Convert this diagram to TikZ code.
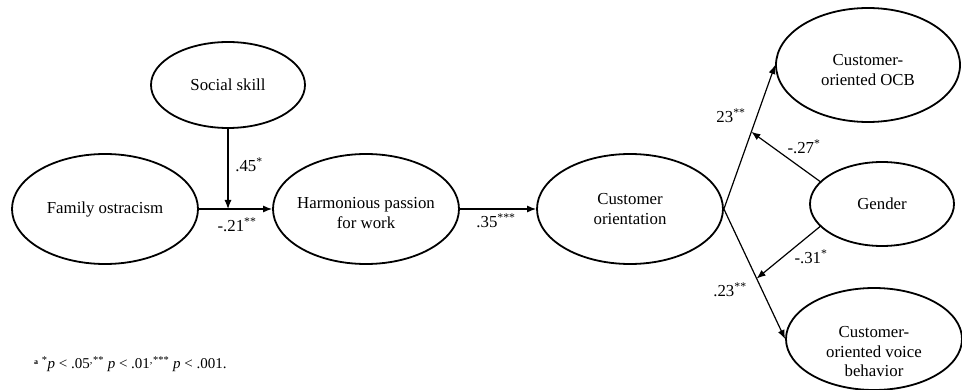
\documentclass[tikz,border=0pt]{standalone}
\usepackage{fontspec}
\setmainfont{Liberation Serif}
\usetikzlibrary{shapes.geometric,arrows.meta,calc}
\begin{document}
\begin{tikzpicture}[x=1pt,y=-1pt,
  var/.style={draw,ellipse,line width=1.8pt,inner sep=0pt,align=center,
    font=\fontsize{16.8}{20}\selectfont},
  txt/.style={inner sep=0pt,align=center,font=\fontsize{16.8}{19.5}\selectfont},
  conn/.style={line width=1.2pt,-{Latex[length=9pt,width=7pt]}},
  lab/.style={font=\fontsize{16.8}{19}\selectfont,inner sep=0pt}]
\useasboundingbox (0,0) rectangle (962,390);
\node[var,minimum width=186pt,minimum height=110pt] (fam) at (105,209) {Family ostracism};
\node[var,minimum width=154pt,minimum height=86pt] (ss) at (228,85) {Social skill};
\node[var,minimum width=186pt,minimum height=110pt] (hp) at (366,209) {};
\node[txt] (hpt) at (366,213) {Harmonious passion\\for work};
\node[var,minimum width=186pt,minimum height=110pt] (co) at (630,209) {Customer\\orientation};
\node[var,minimum width=144pt,minimum height=84pt] (gen) at (882,204) {Gender};
\node[var,minimum width=184pt,minimum height=114pt] (ocb) at (868,65) {};
\node[txt] (ocbt) at (868,70) {Customer-\\oriented OCB};
\node[var,minimum width=176pt,minimum height=102pt] (voice) at (874,339) {};
\node[txt] (voicet) at (874,352) {Customer-\\oriented voice\\behavior};
\coordinate (m) at (228,209);
\draw[conn] (fam.east) -- (hp.west);
\draw[conn] (ss.south) -- (m);
\draw[conn] (hp.east) -- (co.west);
\draw[conn] (co.east) -- (ocb.west);
\draw[conn] (co.east) -- (voice.west);
\coordinate (g1) at ($(co.east)!0.536!(ocb.west)$);
\coordinate (g2) at ($(co.east)!0.535!(voice.west)$);
\draw[conn] (gen.160) -- (g1);
\draw[conn] (gen.200) -- (g2);
\node[lab] (l45) at (249,165) {.45\textsuperscript{*}};
\node[lab] (l21) at (237,225) {-.21\textsuperscript{**}};
\node[lab] (l35) at (496,221) {.35\textsuperscript{***}};
\node[lab] (l23a) at (731,116) {23\textsuperscript{**}};
\node[lab] (l27) at (804,147) {-.27\textsuperscript{*}};
\node[lab] (l31) at (811,257) {-.31\textsuperscript{*}};
\node[lab] (l23b) at (730,290) {.23\textsuperscript{**}};
\node[anchor=west,inner sep=0pt,font=\fontsize{15}{17}\selectfont] (fn) at (34,364)
  {\raisebox{4pt}{\fontsize{8}{9}\selectfont\bfseries a}\ \textsuperscript{*}\textit{p} < .05\textsuperscript{,}\textsuperscript{**} \textit{p} < .01\textsuperscript{,}\textsuperscript{***} \textit{p} < .001.};
\end{tikzpicture}
\end{document}
